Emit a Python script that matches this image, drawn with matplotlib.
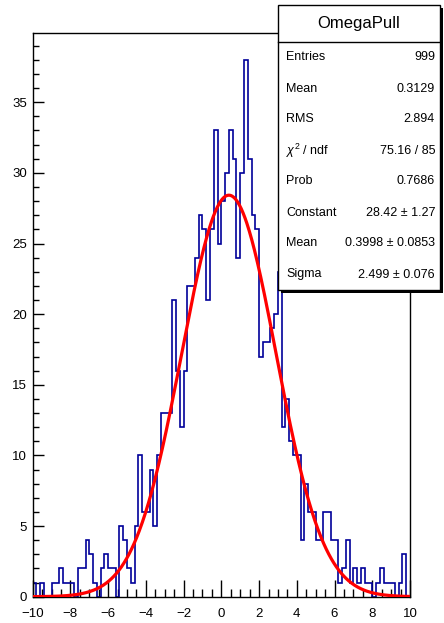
import numpy as np
import matplotlib
matplotlib.use("Agg")
import matplotlib.pyplot as plt
from matplotlib.patches import Rectangle
from matplotlib.lines import Line2D
from matplotlib.ticker import MultipleLocator

plt.rcParams['font.family'] = ['Liberation Sans', 'DejaVu Sans']
plt.rcParams['mathtext.fontset'] = 'custom'
plt.rcParams['mathtext.rm'] = 'Liberation Sans'
plt.rcParams['mathtext.it'] = 'Liberation Sans:italic'

# ---- data ----
hist_title = "OmegaPull"
x_min, x_max, n_bins = -10.0, 10.0, 100
counts = [
    1, 0, 1, 0, 0, 1, 1, 2, 1, 1,
    1, 0, 2, 2, 4, 3, 1, 0, 2, 3,
    2, 2, 0, 5, 4, 2, 1, 5, 10, 6,
    6, 9, 5, 10, 13, 13, 13, 21, 16, 12,
    16, 22, 22, 24, 27, 26, 21, 26, 33, 25,
    28, 30, 33, 31, 24, 30, 38, 31, 27, 26,
    17, 18, 18, 19, 20, 23, 12, 14, 11, 10,
    10, 4, 8, 6, 6, 4, 4, 6, 6, 4,
    4, 1, 2, 4, 1, 2, 1, 2, 1, 1,
    0, 1, 2, 1, 1, 1, 0, 1, 3, 0,
]
fit_constant = 28.42
fit_mean = 0.3998
fit_sigma = 2.499
stat_labels = ["Entries", "Mean", "RMS", r"$\chi^{2}$ / ndf", "Prob",
               "Constant", "Mean", "Sigma"]
stat_values = ["999", "0.3129", "2.894", "75.16 / 85", "0.7686",
               "28.42 \u00b1 1.27", "0.3998 \u00b1 0.0853", "2.499 \u00b1 0.076"]
x_ticks = [-10, -8, -6, -4, -2, 0, 2, 4, 6, 8, 10]
y_ticks = [0, 5, 10, 15, 20, 25, 30, 35]

W, H = 444, 623
fig = plt.figure(figsize=(W / 100, H / 100), dpi=100)
fig.patch.set_facecolor('white')

ax_l, ax_r, ax_t, ax_b = 32.7, 410.0, 33.0, 596.7
ax = fig.add_axes([ax_l / W, (H - ax_b) / H, (ax_r - ax_l) / W, (ax_b - ax_t) / H])

edges = np.linspace(x_min, x_max, n_bins + 1)
ax.stairs(counts, edges, baseline=0, fill=False, color='#000099', lw=1.2, zorder=2)

xf = np.linspace(x_min, x_max, 600)
yf = fit_constant * np.exp(-0.5 * ((xf - fit_mean) / fit_sigma) ** 2)
ax.plot(xf, yf, color='#ff0000', lw=2.3, zorder=3, solid_capstyle='round')

ax.set_xlim(x_min, x_max)
ax.set_ylim(0, 1.05 * max(counts))
ax.set_xticks(x_ticks)
ax.set_yticks(y_ticks)
ax.xaxis.set_minor_locator(MultipleLocator(0.5))
ax.yaxis.set_minor_locator(MultipleLocator(1))
ax.tick_params(axis='x', which='major', direction='in', length=12, width=1, labelsize=9.5, pad=8)
ax.tick_params(axis='x', which='minor', direction='in', length=6, width=1)
ax.tick_params(axis='y', which='major', direction='in', length=8, width=1, labelsize=9.5, pad=4)
ax.tick_params(axis='y', which='minor', direction='in', length=4, width=1)
for s in ax.spines.values():
    s.set_linewidth(1)

# ---- stats box ----
bx_l, bx_r, bx_t, bx_b = 278, 440, 5, 290
title_b = 42
sh = 3
def fx(px):
    return px / W
def fy(py):
    return (H - py) / H

# shadow
fig.add_artist(Rectangle((fx(bx_l + sh), fy(bx_b + sh)), fx(bx_r - bx_l), (bx_b - bx_t) / H,
                         facecolor='black', edgecolor='black', lw=0, zorder=10))
fig.add_artist(Rectangle((fx(bx_l), fy(bx_b)), fx(bx_r - bx_l), (bx_b - bx_t) / H,
                         facecolor='white', edgecolor='black', lw=1, zorder=11))
fig.add_artist(Line2D([fx(bx_l), fx(bx_r)], [fy(title_b), fy(title_b)], color='black', lw=1, zorder=12))
fig.text(fx((bx_l + bx_r) / 2), fy((bx_t + title_b) / 2), hist_title, ha='center', va='center',
         fontsize=12, zorder=13)
row_h = (bx_b - title_b) / len(stat_labels)
for i, (lab, val) in enumerate(zip(stat_labels, stat_values)):
    yc = title_b + row_h * (i + 0.5)
    fig.text(fx(bx_l + 8), fy(yc), lab, ha='left', va='center', fontsize=9, zorder=13)
    fig.text(fx(bx_r - 5), fy(yc), val, ha='right', va='center', fontsize=9, zorder=13)

fig.savefig('out.png', dpi=100)
